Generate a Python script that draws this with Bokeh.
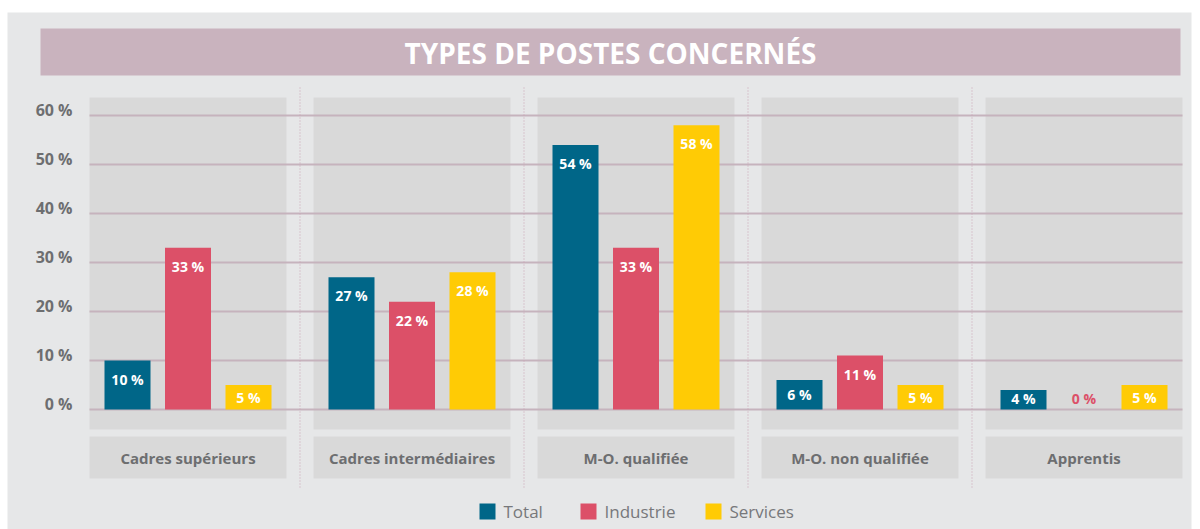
from bokeh.plotting import figure
from bokeh.models import Range1d, ColumnDataSource
from bokeh.core.properties import value
from bokeh.embed import file_html
from bokeh.resources import INLINE

# ---------------- data ----------------
categories = ["Cadres supérieurs", "Cadres intermédiaires", "M-O. qualifiée",
              "M-O. non qualifiée", "Apprentis"]
series = ["Total", "Industrie", "Services"]
total = [10, 27, 54, 6, 4]
industrie = [33, 22, 33, 11, 0]
services = [5, 28, 58, 5, 5]
y_ticks = [0, 10, 20, 30, 40, 50, 60]
y_tick_labels = ["0 %", "10 %", "20 %", "30 %", "40 %", "50 %", "60 %"]
title_text = "TYPES DE POSTES CONCERNÉS"

# ---------------- style / layout ----------------
W, H = 1200, 529
FONT = "Open Sans"
colors = ["#006688", "#dc5068", "#ffcb05"]
PX = 4.9          # pixels per percent
Y0 = 409          # screen y of 0 %
PANEL_L0 = 89
PANEL_W = 197
PANEL_STEP = 224
BAR_W = 46
BAR_OFFS = [-60.5, 0, 60.5]

p = figure(width=W, height=H, output_backend="svg", toolbar_location=None,
           x_range=Range1d(0, W), y_range=Range1d(-(H - Y0) / PX, Y0 / PX),
           x_axis_location=None, y_axis_location=None, min_border=0,
           background_fill_color="white", border_fill_color="white",
           outline_line_color=None)
p.extra_y_ranges = {"px": Range1d(start=H, end=0)}
p.grid.visible = False

# background
p.quad(left=[7], right=[1191], top=[12], bottom=[H], y_range_name="px",
       fill_color="#e6e7e8", line_color=None)
# title banner
p.quad(left=[40], right=[1180], top=[28], bottom=[75], y_range_name="px",
       fill_color="#c9b3be", line_color=None)
p.text(x=[610], y=[52], text=[title_text], y_range_name="px",
       text_font=value(FONT), text_font_style="bold", text_font_size="28px",
       text_color="white", text_align="center", text_baseline="middle")

# panels
n = len(categories)
lefts = [PANEL_L0 + i * PANEL_STEP for i in range(n)]
rights = [l + PANEL_W for l in lefts]
centers = [l + PANEL_W / 2 for l in lefts]
p.quad(left=lefts, right=rights, top=[97] * n, bottom=[429] * n, y_range_name="px",
       fill_color="#d9d9d9", line_color=None)
p.quad(left=lefts, right=rights, top=[436] * n, bottom=[478] * n, y_range_name="px",
       fill_color="#d9d9d9", line_color=None)

# gridlines
p.segment(x0=[lefts[0]] * len(y_ticks), x1=[rights[-1]] * len(y_ticks),
          y0=y_ticks, y1=y_ticks, line_color="#c6b3bd", line_width=2)

# dotted separators
seps = [(rights[i] + lefts[i + 1]) / 2 for i in range(n - 1)]
p.segment(x0=seps, x1=seps, y0=[87] * len(seps), y1=[487] * len(seps),
          y_range_name="px", line_color="#c9a3b5", line_width=1, line_dash="1 2")

# tick labels
p.text(x=[72] * len(y_ticks), y=y_ticks, text=y_tick_labels, y_offset=-6,
       text_font=value(FONT), text_font_style="bold", text_font_size="16px",
       text_color="#6d6e70", text_align="right", text_baseline="middle")

# category labels
p.text(x=centers, y=[457] * n, text=categories, y_range_name="px",
       text_font=value(FONT), text_font_style="bold", text_font_size="15px",
       text_color="#6d6e70", text_align="center", text_baseline="middle")

# bars + value labels
for j, (name, vals) in enumerate(zip(series, [total, industrie, services])):
    xs = [c + BAR_OFFS[j] for c in centers]
    p.vbar(x=xs, top=vals, bottom=0, width=BAR_W, fill_color=colors[j], line_color=None)
    ly = [max(v - 3.8, max(v, 4.4) / 2) for v in vals]
    lc = ["white" if v > 0 else colors[j] for v in vals]
    src = ColumnDataSource(dict(x=xs, y=ly, t=[f"{v} %" for v in vals], c=lc))
    p.text(x="x", y="y", text="t", source=src, text_color="c",
           text_font=value(FONT), text_font_style="bold", text_font_size="14px",
           text_align="center", text_baseline="middle")

# legend
leg_x = [487, 588, 713]
p.scatter(x=leg_x, y=[511] * 3, y_range_name="px", marker="square", size=16,
          fill_color=colors, line_color=None)
p.text(x=[x + 16 for x in leg_x], y=[511] * 3, text=series, y_range_name="px",
       text_font=value(FONT), text_font_size="17px", text_color="#77787b",
       text_align="left", text_baseline="middle")

open("out.html", "w").write(file_html(p, INLINE))
